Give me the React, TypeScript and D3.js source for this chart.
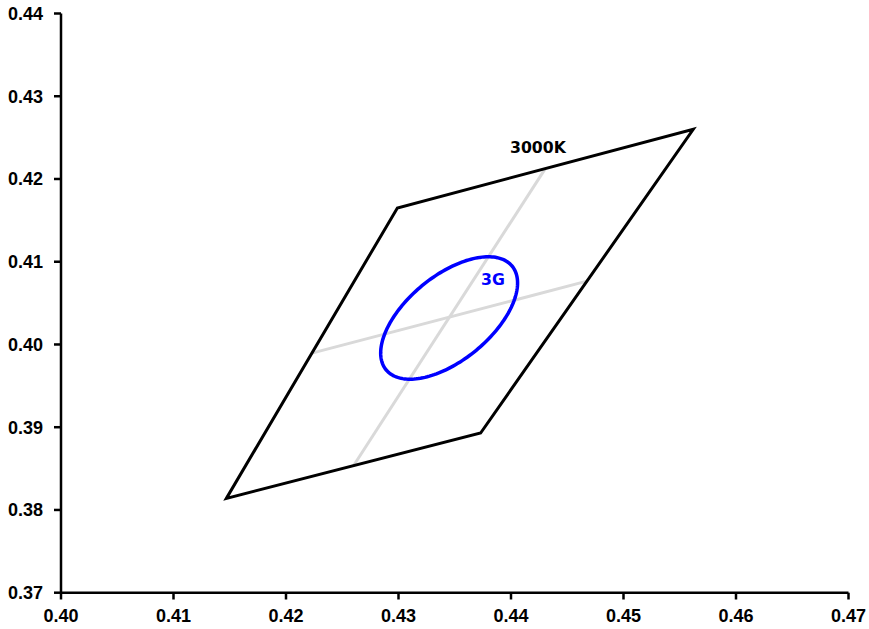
import React from "react";
import * as d3 from "d3";

const xTicks = [0.40, 0.41, 0.42, 0.43, 0.44, 0.45, 0.46, 0.47];
const yTicks = [0.37, 0.38, 0.39, 0.40, 0.41, 0.42, 0.43, 0.44];
// ANSI 3000K quadrangle corners (x, y)
const quadX = [0.4147, 0.4299, 0.4562, 0.4373];
const quadY = [0.3814, 0.4165, 0.4260, 0.3893];
// 3-step ellipse parameters
const ellipseCenter = [0.4345, 0.4032];
const ellipseAxes = [0.00855, 0.00432];
const ellipseAngleDeg = 54.5;
const quadLabel = "3000K";
const ellipseLabel = "3G";

const W = 869;
const H = 629;

export default function App() {
  const x = d3.scaleLinear().domain([0.4, 0.47]).range([61, 848.5]);
  const y = d3.scaleLinear().domain([0.37, 0.44]).range([592.7, 13.5]);

  const corners = quadX.map((v, i) => [v, quadY[i]] as [number, number]);
  const poly = d3.line<[number, number]>().x((d) => x(d[0])).y((d) => y(d[1]));
  const mid = (a: [number, number], b: [number, number]): [number, number] => [
    (a[0] + b[0]) / 2,
    (a[1] + b[1]) / 2,
  ];
  const mLeft = mid(corners[0], corners[1]);
  const mTop = mid(corners[1], corners[2]);
  const mRight = mid(corners[2], corners[3]);
  const mBottom = mid(corners[3], corners[0]);

  const th = (ellipseAngleDeg * Math.PI) / 180;
  const ellPts: [number, number][] = d3.range(0, 361, 2).map((deg) => {
    const t = (deg * Math.PI) / 180;
    const ex = ellipseAxes[0] * Math.cos(t);
    const ey = ellipseAxes[1] * Math.sin(t);
    return [
      ellipseCenter[0] + ex * Math.cos(th) - ey * Math.sin(th),
      ellipseCenter[1] + ex * Math.sin(th) + ey * Math.cos(th),
    ];
  });

  const tickFont = "'Liberation Sans', Arial, sans-serif";
  const labelFont = "'DejaVu Sans', Verdana, sans-serif";

  return (
    <svg
      width={W}
      height={H}
      style={{ position: "absolute", left: 0, top: 0, background: "#fff" }}
    >
      <rect width={W} height={H} fill="#fff" />
      {/* grey cross lines */}
      <line
        x1={x(mLeft[0])} y1={y(mLeft[1])} x2={x(mRight[0])} y2={y(mRight[1])}
        stroke="#d9d9d9" strokeWidth={3}
      />
      <line
        x1={x(mBottom[0])} y1={y(mBottom[1])} x2={x(mTop[0])} y2={y(mTop[1])}
        stroke="#d9d9d9" strokeWidth={3}
      />
      {/* quadrangle */}
      <path
        d={poly(corners)! + "Z"}
        fill="none"
        stroke="#000"
        strokeWidth={3}
        strokeLinejoin="miter"
      />
      {/* ellipse */}
      <path
        d={poly(ellPts)! + "Z"}
        fill="none"
        stroke="#0000ff"
        strokeWidth={3.5}
      />
      <text
        x={510}
        y={153}
        fontFamily={labelFont}
        fontWeight="bold"
        fontSize={15.7}
        fill="#000"
      >
        {quadLabel}
      </text>
      <text
        x={481}
        y={285}
        fontFamily={labelFont}
        fontWeight="bold"
        fontSize={15.7}
        fill="#0000ff"
      >
        {ellipseLabel}
      </text>
      {/* axes */}
      <line x1={61} y1={y(0.44)} x2={61} y2={y(0.37)} stroke="#000" strokeWidth={2.5} />
      <line x1={61} y1={y(0.37)} x2={848.5} y2={y(0.37)} stroke="#000" strokeWidth={2.5} />
      {yTicks.map((t) => (
        <g key={"y" + t}>
          <line x1={54} x2={61} y1={y(t)} y2={y(t)} stroke="#000" strokeWidth={2.5} />
          <text
            x={43}
            y={y(t)}
            dy="0.36em"
            textAnchor="end"
            fontFamily={tickFont}
            fontWeight="bold"
            fontSize={18}
            fill="#000"
          >
            {t.toFixed(2)}
          </text>
        </g>
      ))}
      {xTicks.map((t) => (
        <g key={"x" + t}>
          <line x1={x(t)} x2={x(t)} y1={592.7} y2={599.5} stroke="#000" strokeWidth={2.5} />
          <text
            x={x(t)}
            y={622}
            textAnchor="middle"
            fontFamily={tickFont}
            fontWeight="bold"
            fontSize={18}
            fill="#000"
          >
            {t.toFixed(2)}
          </text>
        </g>
      ))}
    </svg>
  );
}
